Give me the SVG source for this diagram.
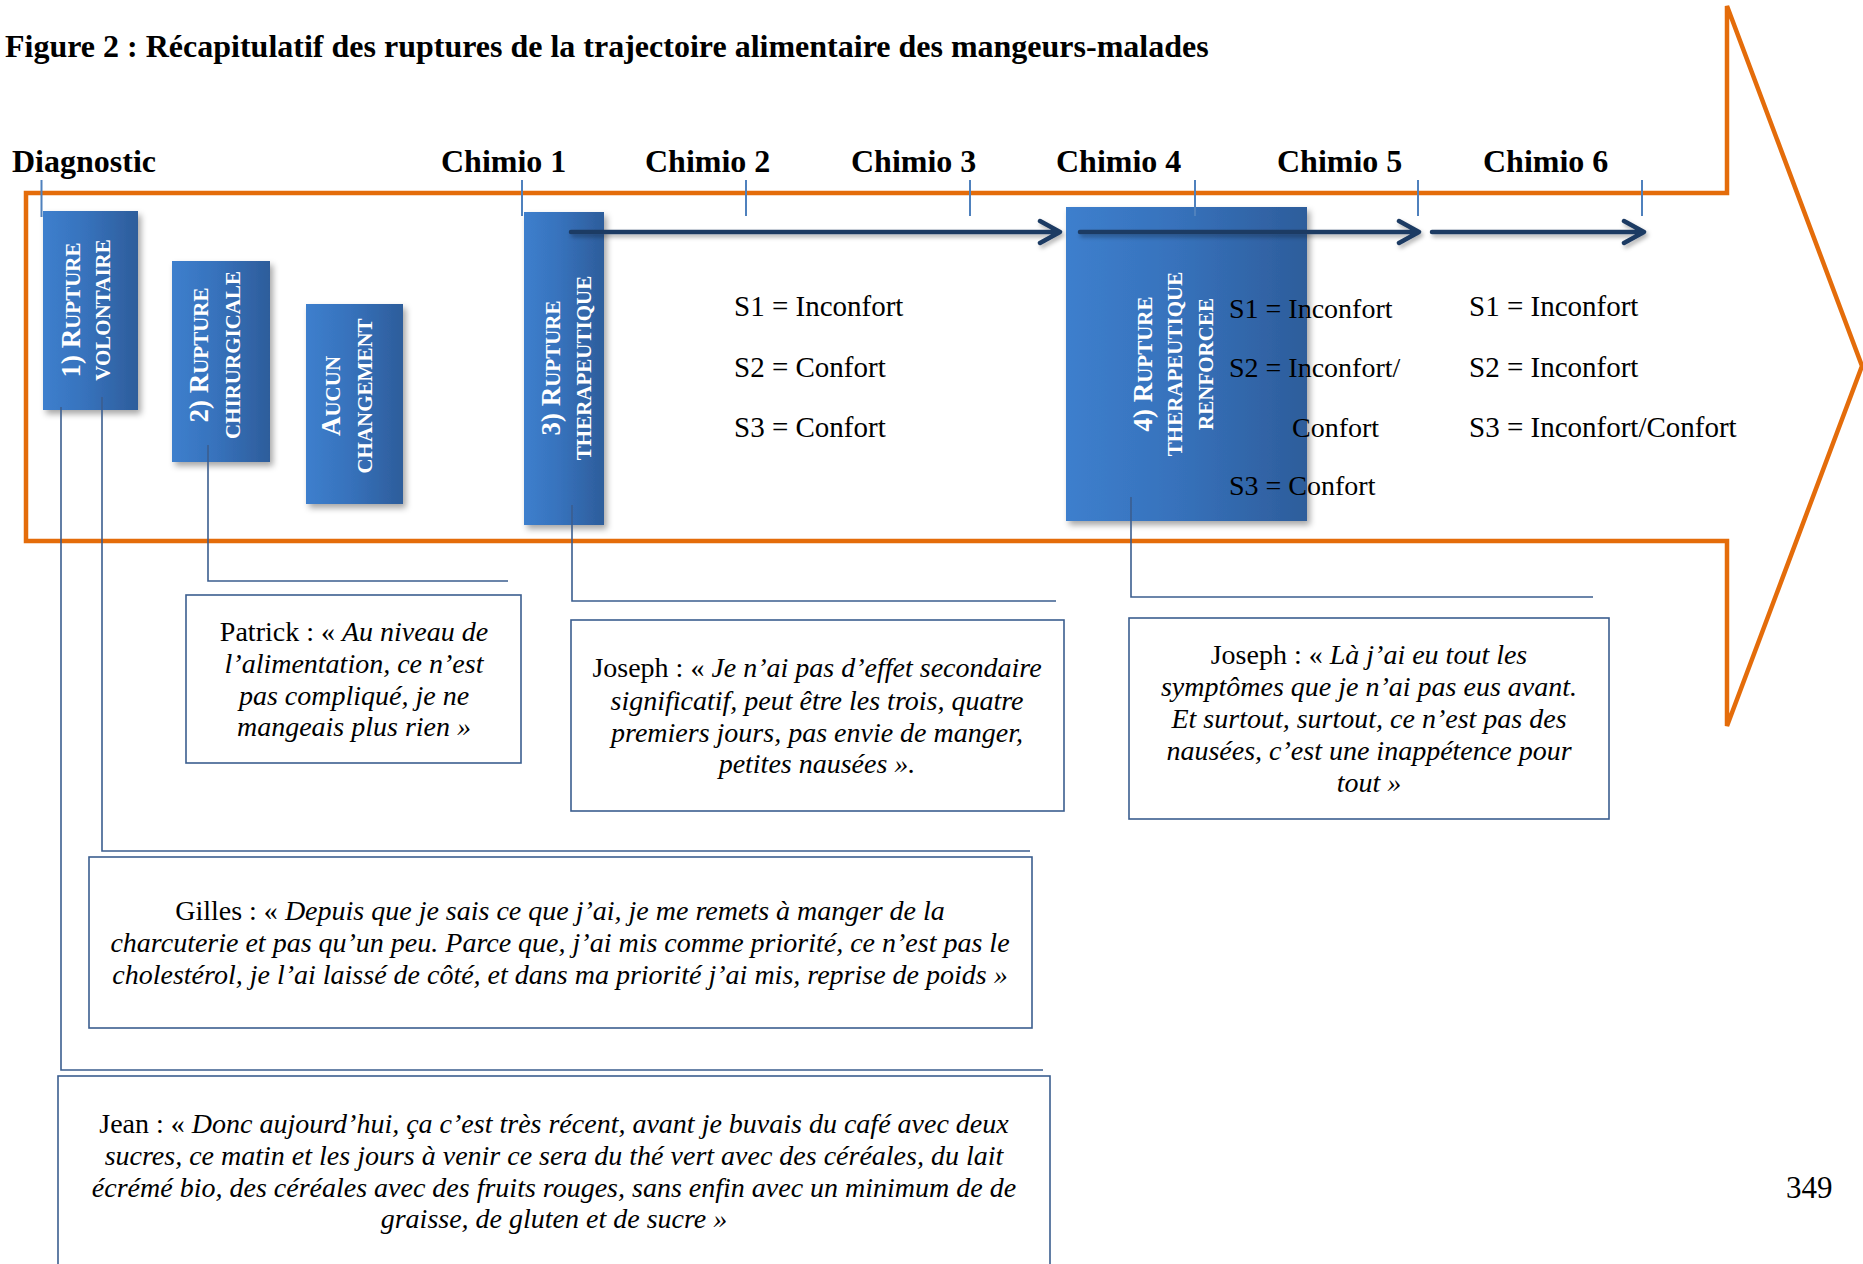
<svg xmlns="http://www.w3.org/2000/svg" width="1863" height="1264" viewBox="0 0 1863 1264">
<defs>
  <linearGradient id="blueGrad" x1="0" y1="0" x2="1" y2="0">
    <stop offset="0" stop-color="#3D7FCD"/>
    <stop offset="0.45" stop-color="#3772BC"/>
    <stop offset="1" stop-color="#2D5D9B"/>
  </linearGradient>
  <filter id="boxShadow" x="-20%" y="-20%" width="150%" height="150%">
    <feDropShadow dx="3" dy="4" stdDeviation="3" flood-color="#000" flood-opacity="0.35"/>
  </filter>
  <filter id="arrowShadow" x="-5%" y="-100%" width="110%" height="300%">
    <feDropShadow dx="2" dy="3" stdDeviation="2" flood-color="#000" flood-opacity="0.3"/>
  </filter>
</defs>
<style>
  .title { font-family: "Liberation Serif", "Times New Roman", serif; font-weight: bold; font-size: 32px; fill: #000; }
  .stage { font-family: "Liberation Serif", "Times New Roman", serif; font-weight: bold; font-size: 32px; fill: #000; }
  .orange { fill: none; stroke: #E46C0A; stroke-width: 4.5; stroke-linejoin: miter; }
  .tick { stroke: #4F81BD; stroke-width: 2; }
  .rupt { fill: url(#blueGrad); filter: url(#boxShadow); }
  .btxt { font-family: "Liberation Serif", "Times New Roman", serif; font-weight: bold; fill: #fff; text-anchor: middle; }
  .big { font-size: 27px; }
  .sm { font-size: 21px; }
  .conn { fill: none; stroke: #3B5E8F; stroke-width: 1.6; }
  .arrow { fill: none; stroke: #1F3B63; stroke-width: 4.5; stroke-linecap: round; stroke-linejoin: round; filter: url(#arrowShadow); }
  .stxt { font-family: "Liberation Serif", "Times New Roman", serif; font-size: 29px; fill: #000; }
  .stxt28 { font-size: 28px; }
  .qbox { fill: #fff; stroke: #3B5E8F; stroke-width: 1.6; }
  .q { font-family: "Liberation Serif", "Times New Roman", serif; font-size: 28px; fill: #000; text-anchor: middle; font-style: italic; }
  .n { font-style: normal; }
  .page { font-family: "Liberation Serif", "Times New Roman", serif; font-size: 31px; fill: #000; }
</style>

<text class="title" x="5" y="57">Figure 2 : Récapitulatif des ruptures de la trajectoire alimentaire des mangeurs-malades</text>

<g id="timeline">
  <path class="orange" d="M26,193 H1727 V6 L1862,366 L1727,726 V541 H26 Z"/>
</g>

<g id="stage-labels">
  <text class="stage" x="12" y="172">Diagnostic</text>
  <text class="stage" x="441" y="172">Chimio 1</text>
  <text class="stage" x="645" y="172">Chimio 2</text>
  <text class="stage" x="851" y="172">Chimio 3</text>
  <text class="stage" x="1056" y="172">Chimio 4</text>
  <text class="stage" x="1277" y="172">Chimio 5</text>
  <text class="stage" x="1483" y="172">Chimio 6</text>
</g>

<g id="rupture-1">
  <rect class="rupt" x="43" y="211" width="95" height="199"/>
  <text class="btxt" transform="translate(80,310) rotate(-90)"><tspan class="big">1) R</tspan><tspan class="sm">UPTURE</tspan></text>
  <text class="btxt" transform="translate(110,310) rotate(-90)"><tspan class="sm">VOLONTAIRE</tspan></text>
</g>

<g id="rupture-2">
  <rect class="rupt" x="172" y="261" width="98" height="201"/>
  <text class="btxt" transform="translate(208,355) rotate(-90)"><tspan class="big">2) R</tspan><tspan class="sm">UPTURE</tspan></text>
  <text class="btxt" transform="translate(240,355) rotate(-90)"><tspan class="sm">CHIRURGICALE</tspan></text>
</g>

<g id="aucun-changement">
  <rect class="rupt" x="306" y="304" width="97" height="200"/>
  <text class="btxt" transform="translate(340,396) rotate(-90)"><tspan class="big">A</tspan><tspan class="sm">UCUN</tspan></text>
  <text class="btxt" transform="translate(372,396) rotate(-90)"><tspan class="sm">CHANGEMENT</tspan></text>
</g>

<g id="rupture-3">
  <rect class="rupt" x="524" y="212" width="80" height="313"/>
  <text class="btxt" transform="translate(560,368) rotate(-90)"><tspan class="big">3) R</tspan><tspan class="sm">UPTURE</tspan></text>
  <text class="btxt" transform="translate(591,368) rotate(-90)"><tspan class="sm">THERAPEUTIQUE</tspan></text>
</g>

<g id="rupture-4">
  <rect class="rupt" x="1066" y="207" width="241" height="314"/>
  <text class="btxt" transform="translate(1152,364) rotate(-90)"><tspan class="big">4) R</tspan><tspan class="sm">UPTURE</tspan></text>
  <text class="btxt" transform="translate(1182,364) rotate(-90)"><tspan class="sm">THERAPEUTIQUE</tspan></text>
  <text class="btxt" transform="translate(1213,364) rotate(-90)"><tspan class="sm">RENFORCEE</tspan></text>
</g>

<g id="ticks">
  <line class="tick" x1="41.5" y1="180" x2="41.5" y2="217"/>
  <line class="tick" x1="522" y1="180" x2="522" y2="216"/>
  <line class="tick" x1="746" y1="180" x2="746" y2="216"/>
  <line class="tick" x1="970" y1="180" x2="970" y2="216"/>
  <line class="tick" x1="1195" y1="180" x2="1195" y2="216"/>
  <line class="tick" x1="1418" y1="180" x2="1418" y2="216"/>
  <line class="tick" x1="1642" y1="180" x2="1642" y2="216"/>
</g>

<g id="connectors">
  <path class="conn" d="M61,407 V1070 H1043"/>
  <path class="conn" d="M102,397 V851 H1030"/>
  <path class="conn" d="M208,445 V581 H508"/>
  <path class="conn" d="M572,505 V601 H1056"/>
  <path class="conn" d="M1131,497 V597 H1593"/>
  <path class="arrow" d="M571,232 H1058 M1040,221 L1060,232 L1040,243"/>
  <path class="arrow" d="M1080,232 H1417 M1399,221 L1419,232 L1399,243"/>
  <path class="arrow" d="M1432,232 H1642 M1624,221 L1644,232 L1624,243"/>
</g>

<g id="states-chimio1-3">
  <text class="stxt" x="734" y="316">S1 = Inconfort</text>
  <text class="stxt" x="734" y="377">S2 = Confort</text>
  <text class="stxt" x="734" y="437">S3 = Confort</text>
</g>

<g id="states-chimio4-5">
  <text class="stxt stxt28" x="1229" y="318">S1 = Inconfort</text>
  <text class="stxt stxt28" x="1229" y="377">S2 = Inconfort/</text>
  <text class="stxt stxt28" x="1292" y="437">Confort</text>
  <text class="stxt stxt28" x="1229" y="495">S3 = Confort</text>
</g>

<g id="states-chimio5-6">
  <text class="stxt" x="1469" y="316">S1 = Inconfort</text>
  <text class="stxt" x="1469" y="377">S2 = Inconfort</text>
  <text class="stxt" x="1469" y="437">S3 = Inconfort/Confort</text>
</g>

<g id="quote-patrick">
  <rect class="qbox" x="186" y="595" width="335" height="168"/>
  <text class="q" x="354" y="641"><tspan class="n">Patrick : « </tspan>Au niveau de</text>
  <text class="q" x="354" y="673">l’alimentation, ce n’est</text>
  <text class="q" x="354" y="705">pas compliqué, je ne</text>
  <text class="q" x="354" y="736">mangeais plus rien »</text>
</g>

<g id="quote-joseph-1">
  <rect class="qbox" x="571" y="620" width="493" height="191"/>
  <text class="q" x="817" y="677"><tspan class="n">Joseph : « </tspan>Je n’ai pas d’effet secondaire</text>
  <text class="q" x="817" y="710">significatif, peut être les trois, quatre</text>
  <text class="q" x="817" y="742">premiers jours, pas envie de manger,</text>
  <text class="q" x="817" y="773">petites nausées ».</text>
</g>

<g id="quote-joseph-2">
  <rect class="qbox" x="1129" y="618" width="480" height="201"/>
  <text class="q" x="1369" y="664"><tspan class="n">Joseph : « </tspan>Là j’ai eu tout les</text>
  <text class="q" x="1369" y="696">symptômes que je n’ai pas eus avant.</text>
  <text class="q" x="1369" y="728">Et surtout, surtout, ce n’est pas des</text>
  <text class="q" x="1369" y="760">nausées, c’est une inappétence pour</text>
  <text class="q" x="1369" y="792">tout »</text>
</g>

<g id="quote-gilles">
  <rect class="qbox" x="89" y="857" width="943" height="171"/>
  <text class="q" x="560" y="920"><tspan class="n">Gilles : « </tspan>Depuis que je sais ce que j’ai, je me remets à manger de la</text>
  <text class="q" x="560" y="952">charcuterie et pas qu’un peu. Parce que, j’ai mis comme priorité, ce n’est pas le</text>
  <text class="q" x="560" y="984">cholestérol, je l’ai laissé de côté, et dans ma priorité j’ai mis, reprise de poids »</text>
</g>

<g id="quote-jean">
  <rect class="qbox" x="58" y="1076" width="992" height="200"/>
  <text class="q" x="554" y="1133"><tspan class="n">Jean : « </tspan>Donc aujourd’hui, ça c’est très récent, avant je buvais du café avec deux</text>
  <text class="q" x="554" y="1165">sucres, ce matin et les jours à venir ce sera du thé vert avec des céréales, du lait</text>
  <text class="q" x="554" y="1197">écrémé bio, des céréales avec des fruits rouges, sans enfin avec un minimum de de</text>
  <text class="q" x="554" y="1228">graisse, de gluten et de sucre »</text>
</g>

<text class="page" x="1786" y="1198">349</text>
</svg>
